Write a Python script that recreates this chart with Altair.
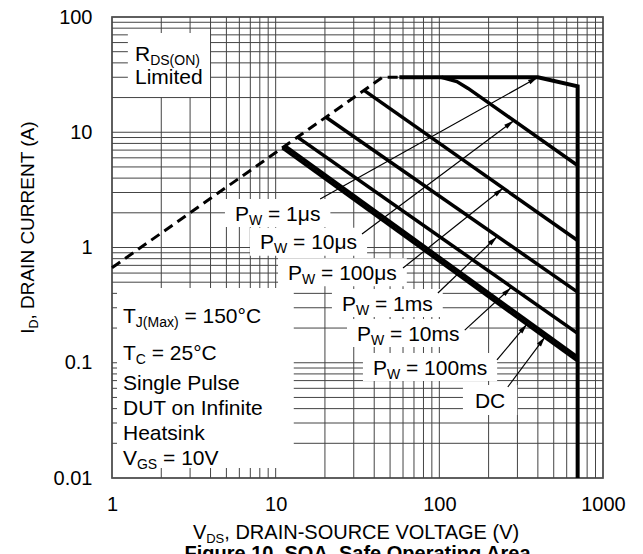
import math
import altair as alt
import pandas as pd

W, H = 491, 461
KX, KY = W / 3.0, H / 4.0
FONT = "Liberation Sans"

# ---------------- axis / grid values ----------------
x_ticks = [1, 10, 100, 1000]
y_ticks = [0.01, 0.1, 1, 10, 100]
grid_x = [1, 2, 3, 4, 5, 6, 7, 8, 9,
          10, 20, 30, 40, 50, 60, 70, 80, 90,
          100, 200, 300, 400, 500, 600, 700, 800, 900, 1000]
grid_y = [0.01, 0.02, 0.03, 0.04, 0.05, 0.06, 0.07, 0.08, 0.09,
          0.1, 0.2, 0.3, 0.4, 0.5, 0.6, 0.7, 0.8, 0.9,
          1, 2, 3, 4, 5, 6, 7, 8, 9,
          10, 20, 30, 40, 50, 60, 70, 80, 90, 100]

# ---------------- curves (V_DS, I_D) ----------------
rds_v = [1, 45, 57]
rds_i = [0.667, 30, 30]
us1_v = [57, 400, 700, 700]
us1_i = [30, 30, 25, 0.01]
us10_v = [103, 128, 150, 700]
us10_i = [30, 27.5, 24, 5.15]
us100_v = [34.7, 700]
us100_i = [23.1, 1.15]
ms1_v = [20.3, 700]
ms1_i = [13.5, 0.41]
ms10_v = [13.6, 700]
ms10_i = [9.07, 0.18]
ms100_v = [11.4, 700]
ms100_i = [7.6, 0.112]
dc_v = [11, 700]
dc_i = [7.33, 0.104]

# ---------------- labels / arrows ----------------
pw_text = ["1μs", "10μs", "100μs", "1ms", "10ms", "100ms"]
pw_v = [5.64, 8.02, 11.9, 25.4, 31.4, 39.3]
pw_i = [1.99, 1.12, 0.61, 0.33, 0.181, 0.0918]
dc_label_v, dc_label_i = 165, 0.0475

arrow_v0 = [18.7, 33.7, 60, 98, 143, 225, 262]
arrow_i0 = [2.64, 1.31, 0.664, 0.403, 0.192, 0.106, 0.0616]
arrow_v1 = [400, 285, 245, 225, 275, 343, 442]
arrow_i1 = [30, 12.6, 3.27, 1.24, 0.45, 0.216, 0.167]

cond_lines = [[("T", 0), ("J(Max)", 1), (" = 150°C", 0)],
              [("T", 0), ("C", 1), (" = 25°C", 0)],
              [("Single Pulse", 0)],
              [("DUT on Infinite", 0)],
              [("Heatsink", 0)],
              [("V", 0), ("GS", 1), (" = 10V", 0)]]
cond_v = 1.167
cond_i = [0.2596, 0.1239, 0.0681, 0.0413, 0.02506, 0.01521]

rds_lines = [[("R", 0), ("DS(ON)", 1)], [("Limited", 0)]]
rds_text_v = 1.382
rds_text_i = [48.7, 30.2]

# white background boxes behind text blocks (data units)
cond_box = {"v0": 1.073, "v1": 12.9, "i0": 0.0122, "i1": 0.445}
rds_box = {"v0": 1.25, "v1": 3.97, "i0": 20.2, "i1": 72.7}

# ---------------- helpers ----------------
AW = {' ': 278, '=': 584, 'μ': 576, 's': 500, 'm': 833, 'P': 667, 'W': 944, 'T': 611,
      'J': 500, '(': 333, ')': 333, 'M': 833, 'a': 556, 'x': 500, 'C': 722, '°': 400,
      'V': 667, 'G': 778, 'S': 667, 'R': 722, 'D': 722, 'O': 778, 'N': 722, ',': 278,
      'I': 278, 'i': 222, 't': 278, 'e': 556, 'd': 556, 'l': 222, 'n': 556, 'g': 556,
      'u': 556, 'U': 722, 'H': 722, 'k': 500, 'f': 278, 'A': 667, 'E': 667, '-': 333,
      'L': 556, 'F': 611, 'r': 333, 'p': 556, '.': 278}


def tw(s, fs):
    return sum(AW.get(c, 556) for c in s) * fs / 1000.0


def split_lead(t):
    s = t.lstrip(" ")
    return len(t) - len(s), s


def place(pieces, v, i, fs=21, sfs=14, drop=4):
    rows, x = [], 0.0
    for t, sub in pieces:
        size = sfs if sub else fs
        lead, s = split_lead(t)
        x += tw(" " * lead, size)
        dy = 0.36 * fs + (drop if sub else 0)
        rows.append({"v": v * 10 ** (x / KX), "i": i * 10 ** (-dy / KY), "t": s, "s": size})
        x += tw(s, size)
    return rows, x


def box(v, i, width, padx=10, pady=14):
    return {"v0": v * 10 ** (-padx / KX), "v1": v * 10 ** ((width + padx) / KX),
            "i0": i * 10 ** (-pady / KY), "i1": i * 10 ** (pady / KY)}


# ---------------- data frames ----------------
text_rows, box_rows = [], [cond_box, rds_box]
for lab, v, i in zip(pw_text, pw_v, pw_i):
    r, w = place([("P", 0), ("W", 1), (" = " + lab, 0)], v, i)
    text_rows += r
    box_rows.append(box(v, i, w))
r, w = place([("DC", 0)], dc_label_v, dc_label_i)
text_rows += r
box_rows.append(box(dc_label_v, dc_label_i, w, padx=12, pady=15))
for pieces, i in zip(cond_lines, cond_i):
    text_rows += place(pieces, cond_v, i)[0]
for pieces, i in zip(rds_lines, rds_text_i):
    text_rows += place(pieces, rds_text_v, i)[0]
df_text = pd.DataFrame(text_rows)
df_box = pd.DataFrame(box_rows)


def series(name, vs, is_):
    return [{"series": name, "k": k, "v": a, "i": b} for k, (a, b) in enumerate(zip(vs, is_))]


df_dash = pd.DataFrame(series("rds", rds_v, rds_i))
df_lim = pd.DataFrame(series("1us", us1_v, us1_i))
df_cur = pd.DataFrame(series("10us", us10_v, us10_i) + series("100us", us100_v, us100_i)
                      + series("1ms", ms1_v, ms1_i) + series("10ms", ms10_v, ms10_i)
                      + series("100ms", ms100_v, ms100_i) + series("dc", dc_v, dc_i))

arr = []
for a0, b0, a1, b1 in zip(arrow_v0, arrow_i0, arrow_v1, arrow_i1):
    dxp = KX * (math.log10(a1) - math.log10(a0))
    dyp = -KY * (math.log10(b1) - math.log10(b0))
    ang = math.degrees(math.atan2(dxp, -dyp)) % 360
    arr.append({"v0": a0, "i0": b0, "v1": a1, "i1": b1, "ang": ang})
df_arr = pd.DataFrame(arr)

df_gx = pd.DataFrame({"v": grid_x})
df_gy = pd.DataFrame({"i": grid_y})

# ---------------- encodings ----------------
xs = alt.Scale(type="log", domain=[1, 1000])
ys = alt.Scale(type="log", domain=[0.01, 100])
xax = alt.Axis(values=x_ticks, format="~g", title=None, grid=False, ticks=False, domain=False,
               labelFontSize=20, labelFont=FONT, labelColor="black", labelPadding=16,
               labelFlush=False, labelOverlap=False)
yax = alt.Axis(values=y_ticks, format="~g", title=None, grid=False, ticks=False, domain=False,
               labelFontSize=20, labelFont=FONT, labelColor="black", labelPadding=20,
               labelFlush=False, labelOverlap=False)


def X(f):
    return alt.X(f, type="quantitative", scale=xs, axis=xax)


def Y(f):
    return alt.Y(f, type="quantitative", scale=ys, axis=yax)


grid_v = alt.Chart(df_gx).mark_rule(color="#444", strokeWidth=1).encode(x=X("v"))
grid_h = alt.Chart(df_gy).mark_rule(color="#444", strokeWidth=1).encode(y=Y("i"))
boxes = alt.Chart(df_box).mark_rect(color="white").encode(
    x=X("v0"), x2=alt.X2("v1"), y=Y("i0"), y2=alt.Y2("i1"))
dashed = alt.Chart(df_dash).mark_line(color="black", strokeWidth=3, strokeDash=[10, 6]).encode(
    x=X("v"), y=Y("i"), order=alt.Order("k:Q"))
limit = alt.Chart(df_lim).mark_line(color="black", strokeWidth=4, strokeJoin="miter").encode(
    x=X("v"), y=Y("i"), order=alt.Order("k:Q"))
curves = alt.Chart(df_cur).mark_line(color="black", strokeWidth=3.5).encode(
    x=X("v"), y=Y("i"), detail="series:N", order=alt.Order("k:Q"))
arrows = alt.Chart(df_arr).mark_rule(color="black", strokeWidth=1.2).encode(
    x=X("v0"), x2=alt.X2("v1"), y=Y("i0"), y2=alt.Y2("i1"))
heads = alt.Chart(df_arr).mark_point(shape="M0,0L0.5,2L-0.5,2Z", filled=True, color="black",
                                      size=100, opacity=1, strokeWidth=0).encode(
    x=X("v1"), y=Y("i1"), angle=alt.Angle("ang:Q", scale=None))
texts = alt.Chart(df_text).mark_text(align="left", baseline="alphabetic", font=FONT,
                                     color="black").encode(
    x=X("v"), y=Y("i"), text="t:N", size=alt.Size("s:Q", scale=None, legend=None))

dummy = alt.Data(values=[{"a": 1}])


def ext(t, x, y, size, dx=0.0, dy=0.0, angle=0, weight="normal", align="left"):
    return alt.Chart(dummy).mark_text(text=t, fontSize=size, font=FONT, align=align,
                                      baseline="alphabetic", dx=dx, dy=dy, angle=angle,
                                      fontWeight=weight, color="black").encode(
        x=alt.value(x), y=alt.value(y))


# x-axis title  V_DS, DRAIN-SOURCE VOLTAGE (V)
xt = [("V", 0), ("DS", 1), (", DRAIN-SOURCE VOLTAGE (V)", 0)]
xt_total = tw("V", 20) + tw("DS", 13) + tw(xt[2][0], 20)
ext_layers = []
x0 = W / 2 - xt_total / 2
off = 0.0
for t, sub in xt:
    size = 13 if sub else 20
    ext_layers.append(ext(t, x0 + off, H + 61 + (4 if sub else 0), size))
    off += tw(t, size)

# y-axis title  I_D, DRAIN CURRENT (A)
yt = [("I", 0), ("D", 1), (", DRAIN CURRENT (A)", 0)]
yt_total = tw("I", 19) + tw("D", 12.5) + tw(yt[2][0], 19)
off = 0.0
for t, sub in yt:
    size = 12.5 if sub else 19
    ext_layers.append(ext(t, -85, 210.5 + yt_total / 2, size, dx=off,
                          dy=0.36 * 19 + (4 if sub else 0), angle=270))
    off += tw(t, size)

# figure caption (partly outside the window, as in the reference)
ext_layers.append(ext("Figure 10. SOA, Safe Operating Area", W / 2, H + 82, 20,
                      weight="bold", align="center"))

chart = alt.layer(grid_v, grid_h, boxes, dashed, limit, curves, arrows, heads, texts,
                  *ext_layers).properties(
    width=W, height=H,
    autosize=alt.AutoSizeParams(type="none"),
    padding={"left": 104, "top": 9, "right": 30, "bottom": 90},
).configure_view(stroke="#7a7a7a", strokeWidth=2)

chart.save("out.html", embed_options={"renderer": "svg", "actions": False})
